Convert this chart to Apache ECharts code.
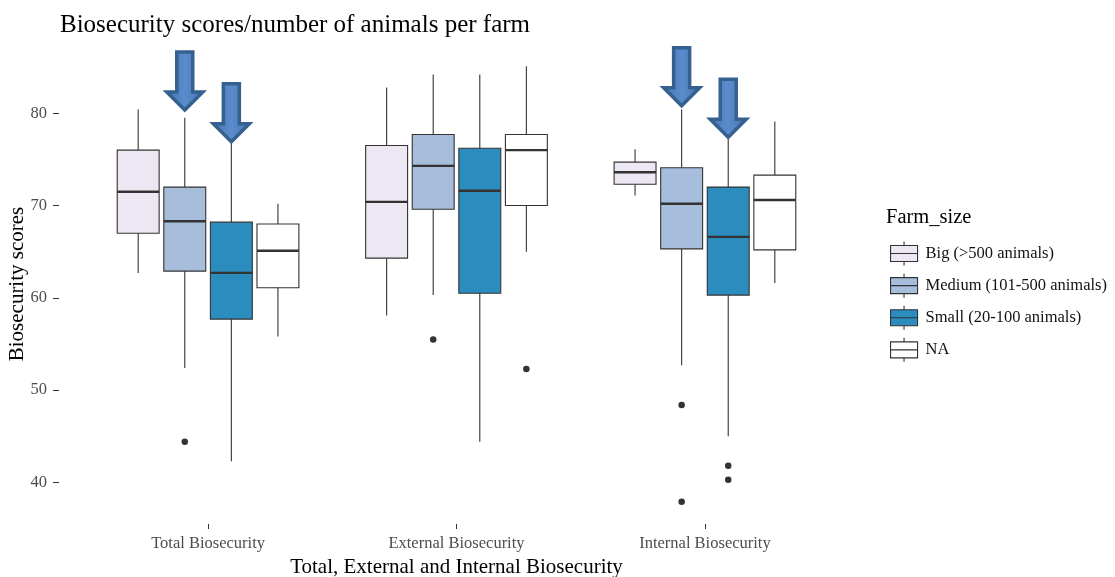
<!DOCTYPE html>
<html>
<head>
<meta charset="utf-8">
<script src="https://cdn.jsdelivr.net/npm/echarts@6/dist/echarts.min.js"></script>
<style>
  html, body { margin: 0; padding: 0; background: #ffffff; }
  #chart { width: 1115px; height: 577px; }
</style>
</head>
<body>
<div id="chart"></div>
<script>
// Biosecurity score groups on the x axis
const categories = ['Total Biosecurity', 'External Biosecurity', 'Internal Biosecurity'];
const farmSizes = ['Big (>500 animals)', 'Medium (101-500 animals)', 'Small (20-100 animals)', 'NA'];
const yTickValues = [40, 50, 60, 70, 80];

// Box statistics per group: [lower whisker, Q1, median, Q3, upper whisker]
const bigStats    = [[62.7, 67.0, 71.5, 76.0, 80.4], [58.1, 64.3, 70.4, 76.5, 82.8], [71.1, 72.3, 73.6, 74.7, 76.1]];
const mediumStats = [[52.4, 62.9, 68.3, 72.0, 79.5], [60.3, 69.6, 74.3, 77.7, 84.2], [52.7, 65.3, 70.2, 74.1, 80.4]];
const smallStats  = [[42.3, 57.7, 62.7, 68.2, 77.5], [44.4, 60.5, 71.6, 76.2, 84.2], [45.0, 60.3, 66.6, 72.0, 78.0]];
const naStats     = [[55.8, 61.1, 65.1, 68.0, 70.2], [65.0, 70.0, 76.0, 77.7, 85.1], [61.6, 65.2, 70.6, 73.3, 79.1]];

// Outlying farms: [group index, score]
const bigOutliers    = [];
const mediumOutliers = [[0, 44.4], [1, 55.5], [2, 48.4], [2, 37.9]];
const smallOutliers  = [[2, 41.8], [2, 40.3]];
const naOutliers     = [[1, 52.3]];

// Highlight arrows: [group index, farm size index, score at arrow tip]
const arrowMarks = [[0, 1, 80.35], [0, 2, 76.9], [2, 1, 80.8], [2, 2, 77.4]];

const fills = ['#ECE7F2', '#A6BDDB', '#2B8CBE', '#FFFFFF'];
const statsBySize = [bigStats, mediumStats, smallStats, naStats];
const outliersBySize = [bigOutliers, mediumOutliers, smallOutliers, naOutliers];

// dodge layout: four boxes share 0.75 of a group unit
const dodgeW = 0.75 / farmSizes.length;
const boxW = dodgeW * 0.9;
const slotOffset = i => (i - (farmSizes.length - 1) / 2) * dodgeW;

const serif = 'Liberation Serif';
const lineColor = '#333333';

function boxRenderer(slot, fill) {
  return function (params, api) {
    const cx = api.value(0) + slotOffset(slot);
    const pLo = api.coord([cx, api.value(1)]);
    const pQ1 = api.coord([cx, api.value(2)]);
    const pMed = api.coord([cx, api.value(3)]);
    const pQ3 = api.coord([cx, api.value(4)]);
    const pHi = api.coord([cx, api.value(5)]);
    const half = api.size([boxW, 0])[0] / 2;
    const x = pMed[0];
    const thin = { stroke: lineColor, lineWidth: 1.1 };
    return {
      type: 'group',
      children: [
        { type: 'line', shape: { x1: x, y1: pHi[1], x2: x, y2: pQ3[1] }, style: thin },
        { type: 'line', shape: { x1: x, y1: pQ1[1], x2: x, y2: pLo[1] }, style: thin },
        { type: 'rect', shape: { x: x - half, y: pQ3[1], width: half * 2, height: pQ1[1] - pQ3[1] },
          style: { fill: fill, stroke: lineColor, lineWidth: 1.1 } },
        { type: 'line', shape: { x1: x - half, y1: pMed[1], x2: x + half, y2: pMed[1] },
          style: { stroke: lineColor, lineWidth: 2.4 } }
      ]
    };
  };
}

const series = [];
farmSizes.forEach((name, slot) => {
  series.push({
    type: 'custom',
    name: name,
    itemStyle: { color: fills[slot] },
    renderItem: boxRenderer(slot, fills[slot]),
    encode: { x: 0, y: [1, 2, 3, 4, 5] },
    data: statsBySize[slot].map((s, g) => [g + 1].concat(s)),
    z: 2
  });
});
farmSizes.forEach((name, slot) => {
  series.push({
    type: 'scatter',
    name: name + ' outliers',
    symbol: 'circle',
    symbolSize: 6.5,
    itemStyle: { color: lineColor, opacity: 1 },
    data: outliersBySize[slot].map(([g, v]) => [g + 1 + slotOffset(slot), v]),
    silent: true,
    z: 3
  });
});
series.push({
  type: 'custom',
  name: 'arrows',
  renderItem: function (params, api) {
    const cx = api.value(0) + 1 + slotOffset(api.value(1));
    const tip = api.coord([cx, api.value(2)]);
    const tx = tip[0], ty = tip[1];
    return {
      type: 'polygon',
      shape: { points: [
        [tx, ty], [tx - 18, ty - 18], [tx - 8, ty - 18], [tx - 8, ty - 58],
        [tx + 8, ty - 58], [tx + 8, ty - 18], [tx + 18, ty - 18]
      ] },
      style: {
        fill: { type: 'linear', x: 0, y: 0, x2: 1, y2: 0, colorStops: [
          { offset: 0, color: '#4675B3' }, { offset: 0.5, color: '#5A8CCB' }, { offset: 1, color: '#4675B3' }
        ] },
        stroke: '#36608F', lineWidth: 3.5, lineJoin: 'miter'
      }
    };
  },
  encode: { x: 0, y: 2 },
  data: arrowMarks,
  silent: true,
  z: 10
});

const legendIcon = 'path://M13.5,0L13.5,4M0,4L27,4L27,20L0,20ZM0,12L27,12M13.5,20L13.5,24';

const option = {
  animation: false,
  backgroundColor: '#ffffff',
  title: [
    { text: 'Biosecurity scores/number of animals per farm', left: 55, top: 8,
      textStyle: { fontFamily: serif, fontSize: 25, fontWeight: 'normal', color: '#000000' } },
    { text: 'Farm_size', left: 881, top: 202,
      textStyle: { fontFamily: serif, fontSize: 20.5, fontWeight: 'normal', color: '#000000' } }
  ],
  legend: {
    orient: 'vertical',
    left: 885,
    top: 236,
    itemWidth: 33,
    itemHeight: 24,
    itemGap: 7,
    data: farmSizes.map(n => ({ name: n, icon: legendIcon })),
    itemStyle: { borderColor: lineColor, borderWidth: 1.1 },
    textStyle: { fontFamily: serif, fontSize: 16.5, color: '#111111', lineHeight: 22 },
    selectedMode: false
  },
  grid: { left: 59, right: 261, top: 44, bottom: 53, outerBoundsMode: 'none', containLabel: false },
  xAxis: {
    type: 'value',
    min: 0.4,
    max: 3.6,
    name: 'Total, External and Internal Biosecurity',
    nameLocation: 'middle',
    nameGap: 32,
    nameTextStyle: { fontFamily: serif, fontSize: 21, color: '#000000' },
    axisLine: { show: false },
    splitLine: { show: false },
    axisTick: { show: true, length: 5, lineStyle: { color: lineColor },
      customValues: categories.map((c, i) => i + 1) },
    axisLabel: { margin: 11, fontFamily: serif, fontSize: 16.5, color: '#4D4D4D',
      customValues: categories.map((c, i) => i + 1),
      formatter: v => categories[Math.round(v) - 1] || '' }
  },
  yAxis: {
    type: 'value',
    min: 35.5,
    max: 87.5,
    name: 'Biosecurity scores',
    nameLocation: 'middle',
    nameRotate: 90,
    nameGap: 31,
    nameMoveOverlap: false,
    nameTextStyle: { fontFamily: serif, fontSize: 21, color: '#000000' },
    axisLine: { show: false },
    splitLine: { show: false },
    axisTick: { show: true, length: 6, lineStyle: { color: lineColor }, customValues: yTickValues },
    axisLabel: { margin: 12, fontFamily: serif, fontSize: 16.5, color: '#4D4D4D', customValues: yTickValues }
  },
  series: series
};

const chart = echarts.init(document.getElementById('chart'), null, { renderer: 'canvas' });
chart.setOption(option);
</script>
</body>
</html>
